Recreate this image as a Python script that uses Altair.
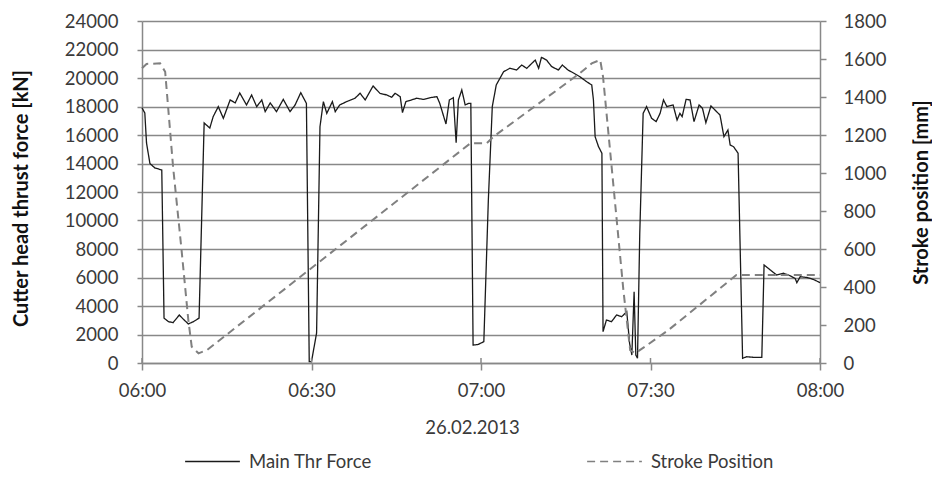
import altair as alt
import pandas as pd

# ---- data (minutes after 06:00) ----
force_minutes = [0, 0.5, 0.8, 1.4, 2.3, 3.5, 3.9, 4.7, 5.5, 6.6, 7.3, 8.2, 9.1, 10.1, 11.0,
                 12.0, 12.6, 13.5, 14.4, 15.6, 16.5, 17.3, 18.5, 19.4, 20.3, 21.2, 21.8, 22.7,
                 23.8, 25.0, 26.2, 27.1, 28.1, 29.1, 29.6, 30.0, 30.9, 31.5, 32.1, 32.7, 33.7,
                 34.2, 35.0, 36.2, 37.7, 38.6, 39.5, 40.9, 42.1, 43.3, 44.2, 44.8, 45.7, 46.1,
                 46.7, 47.7, 48.6, 49.8, 51.0, 52.2, 52.7, 53.8, 54.4, 55.1, 55.6, 56.0, 56.6,
                 57.2, 57.8, 58.2, 58.6, 59.5, 60.5, 61.3, 62.0, 62.7, 64.0, 65.1, 66.3, 67.2,
                 68.1, 69.0, 69.6, 70.2, 70.7, 71.6, 72.5, 73.7, 74.4, 75.4, 76.3, 77.5, 78.7,
                 79.6, 79.9, 80.2, 80.8, 81.4, 81.6, 82.2, 83.1, 84.0, 84.9, 85.8, 86.3, 86.7,
                 87.1, 87.4, 87.7, 88.1, 88.7, 89.3, 90.2, 91.0, 91.7, 92.3, 92.9, 94.0, 94.7,
                 95.2, 95.6, 96.3, 97.0, 97.7, 98.6, 99.2, 99.8, 100.7, 101.4, 102.3, 103.0,
                 103.7, 104.1, 104.7, 105.5, 106.3, 107.0, 108.2, 109.7, 110.1, 111.2, 112.3,
                 113.5, 114.4, 115.6, 115.9, 116.5, 117.7, 118.8, 120.0]
force_kn = [17900, 17540, 15440, 14000, 13680, 13550, 3150, 2900, 2830, 3370, 3080, 2740, 2900, 3150, 16840,
            16490, 17290, 17990, 17170, 18460, 18250, 18950, 18110, 18810, 17990, 18460, 17640, 18250,
            17640, 18500, 17640, 18110, 18970, 18220, 100, 100, 2100, 16580, 18340, 17520, 18340,
            17640, 18110, 18340, 18580, 18930, 18460, 19440, 18930, 18810, 18650, 18930, 18690, 17570,
            18340, 18460, 18580, 18500, 18620, 18690, 18220, 16770, 18460, 18620, 15460, 18460, 19160,
            18110, 18220, 18220, 1260, 1300, 1500, 11440, 18000, 19510, 20440, 20680, 20560, 20910,
            20680, 21030, 21260, 20680, 21450, 21260, 20800, 20560, 20910, 20560, 20370, 20090, 19740,
            19510, 18460, 15880, 15180, 14720, 2200, 3020, 2900, 3370, 3250, 3600, 1380, 560,
            5000, 560, 330, 9100, 17520, 17990, 17170, 16940, 17520, 18460, 17990, 18110, 17050,
            17520, 17290, 18500, 18460, 16940, 18110, 17870, 16860, 18040, 17760, 17400, 15880,
            16350, 15300, 15180, 14720, 330, 440, 400, 400, 6880, 6530, 6180,
            6300, 6180, 5940, 5640, 6060, 6000, 5870, 5640]

stroke_minutes = [0, 0.8, 3.2, 4.1, 5.5, 7.0, 8.2, 8.8, 10.0, 11.5, 58.1, 61.0, 62.2, 77.5, 79.6,
                  81.1, 81.6, 85.2, 85.8, 86.4, 87.3, 88.1, 89.0, 93.2, 105.2, 120.0]
stroke_mm = [1551, 1574, 1577, 1533, 1033, 595, 226, 86, 51, 68, 1156, 1156, 1191, 1525, 1577,
             1595, 1507, 384, 226, 68, 51, 68, 86, 174, 463, 463]

tick_minutes = [0, 30, 60, 90, 120]
tick_labels = ["06:00", "06:30", "07:00", "07:30", "08:00"]
series_names = ["Main Thr Force", "Stroke Position"]
date_label = "26.02.2013"
left_title = "Cutter head thrust force [kN]"
right_title = "Stroke position [mm]"
force_ticks = list(range(0, 24001, 2000))
stroke_ticks = list(range(0, 1801, 200))

force_df = pd.DataFrame({"t": force_minutes, "v": force_kn, "series": series_names[0]})
stroke_df = pd.DataFrame({"t": stroke_minutes, "v": stroke_mm, "series": series_names[1]})
tick_df = pd.DataFrame({"t": tick_minutes})

label_expr = "[" + ",".join("'%s'" % s for s in tick_labels) + "][round(datum.value/30)]"

FONT = "Lato"
AX = "#888888"
TXT = "#3a3a3a"
FS = 18.5

x_enc = alt.X(
    "t:Q",
    scale=alt.Scale(domain=[0, 120], nice=False, zero=False),
    axis=alt.Axis(values=tick_minutes, labelExpr=label_expr, title=date_label, grid=False,
                  labelFlush=False, labelOverlap=False,
                  domainColor=AX, domainWidth=1.5, tickColor=AX, tickWidth=1.5, tickSize=7,
                  labelPadding=20, labelBaseline="middle", labelFont=FONT, labelFontSize=FS,
                  labelColor=TXT, titleFont=FONT, titleFontSize=FS, titleFontWeight="normal",
                  titleColor=TXT, titleX=330, titleY=64, titleAlign="center",
                  titleBaseline="middle"),
)

legend = alt.Legend(title=None, orient="none", legendX=42, legendY=412, direction="horizontal",
                    symbolType="stroke", symbolSize=3000, symbolStrokeWidth=1.6, labelOffset=8,
                    columnPadding=210, labelFont=FONT, labelFontSize=FS, labelColor=TXT)

color_enc = alt.Color("series:N", scale=alt.Scale(domain=series_names, range=["#1a1a1a", "#808080"]),
                      legend=legend)
dash_enc = alt.StrokeDash("series:N", scale=alt.Scale(domain=series_names, range=[[1, 0], [8, 5]]),
                          legend=legend)

left_axis = alt.Axis(orient="left", values=force_ticks, format="d", grid=True, gridColor=AX,
                     labelFlush=False, labelOverlap=False,
                     gridWidth=1.6, domainColor=AX, domainWidth=1.5, tickColor=AX, tickWidth=1.5,
                     tickSize=5, labelPadding=19, labelFont=FONT, labelFontSize=FS, labelColor=TXT,
                     title=left_title, titleFont=FONT, titleFontSize=20, titleFontWeight="bold",
                     titleColor="#111111", titleAngle=270, titleX=-121, titleY=177,
                     titleAlign="center", titleBaseline="middle")

right_axis = alt.Axis(orient="right", values=stroke_ticks, format="d", grid=False,
                      labelFlush=False, labelOverlap=False,
                      domainColor=AX, domainWidth=1.5, tickColor=AX, tickWidth=1.5, tickSize=6,
                      labelPadding=17, labelFont=FONT, labelFontSize=FS, labelColor=TXT,
                      title=right_title, titleFont=FONT, titleFontSize=20, titleFontWeight="bold",
                      titleColor="#111111", titleAngle=270, titleX=101, titleY=171,
                      titleAlign="center", titleBaseline="middle")

ticks_up = alt.Chart(tick_df).mark_rule(color=AX, strokeWidth=1.5).encode(
    x=x_enc, y=alt.value(337), y2=alt.value(342)
)

stroke_line = alt.Chart(stroke_df).mark_line(strokeWidth=2).encode(
    x=x_enc,
    y=alt.Y("v:Q", scale=alt.Scale(domain=[0, 1800], nice=False), axis=right_axis),
    color=color_enc,
    strokeDash=dash_enc,
)

force_line = alt.Chart(force_df).mark_line(strokeWidth=1.3).encode(
    x=x_enc,
    y=alt.Y("v:Q", scale=alt.Scale(domain=[0, 24000], nice=False), axis=left_axis),
    color=color_enc,
    strokeDash=dash_enc,
)

chart = (
    alt.layer(force_line, stroke_line, ticks_up)
    .resolve_scale(y="independent")
    .properties(width=678, height=342,
                padding={"left": 134, "top": 13, "right": 112, "bottom": 108},
                autosize=alt.AutoSizeParams(type="none"),
                background="white")
    .configure_view(strokeWidth=0)
)

chart.save("out.html", embed_options={"renderer": "svg", "actions": False})
